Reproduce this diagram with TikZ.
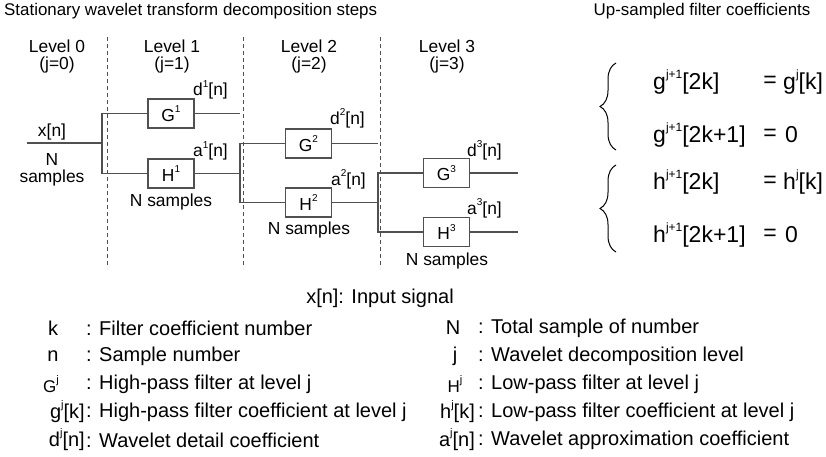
\documentclass[tikz,border=0pt]{standalone}
\usepackage{fontspec}
\setmainfont{Liberation Sans}
\usetikzlibrary{decorations.pathreplacing}
\newcommand\upsc[2]{\raisebox{0.5em}{\fontsize{#1}{#1}\selectfont #2}}
\newcommand\fdia{\fontsize{17.4}{20}\selectfont}
\newcommand\feq{\fontsize{23}{26}\selectfont}
\newcommand\fleg{\fontsize{20}{23}\selectfont}
\newcommand\ftit{\fontsize{16.9}{20}\selectfont}
\definecolor{ln}{HTML}{505050}
\tikzset{
  wire/.style={draw=ln, line width=1.2pt},
  fbox/.style={draw=ln, line width=1.2pt, minimum width=46pt, minimum height=29pt, inner sep=0pt, font=\fdia},
  dlbl/.style={inner sep=0pt, font=\fdia},
  eqt/.style={inner sep=0pt, font=\feq},
  leg/.style={inner sep=0pt, font=\fleg},
  tit/.style={inner sep=0pt, font=\ftit},
  lvl/.style={draw=ln, line width=0.9pt, dash pattern=on 4pt off 3pt},
  brc/.style={draw=black, line width=1pt, decorate, decoration={brace, amplitude=16pt, aspect=0.5}}
}
\begin{document}
\begin{tikzpicture}[x=1pt, y=-1pt]
\useasboundingbox (0,0) rectangle (826,457);
% titles
\node[tit, anchor=west] (t1) at (4,11) {Stationary wavelet transform decomposition steps};
\node[tit] (t2) at (702,11) {Up-sampled filter coefficients};
% level separators
\coordinate (v1a) at (107,37); \coordinate (v1b) at (107,268);
\coordinate (v2a) at (243,37); \coordinate (v2b) at (243,268);
\coordinate (v3a) at (380,37); \coordinate (v3b) at (380,268);
\draw[lvl] (v1a) -- (v1b);
\draw[lvl] (v2a) -- (v2b);
\draw[lvl] (v3a) -- (v3b);
% level labels
\node[dlbl] (L0) at (57,46) {Level 0};
\node[dlbl] (j0) at (57,65) {(j=0)};
\node[dlbl] (L1) at (172,46) {Level 1};
\node[dlbl] (j1) at (172,65) {(j=1)};
\node[dlbl] (L2) at (309,46) {Level 2};
\node[dlbl] (j2) at (309,65) {(j=2)};
\node[dlbl] (L3) at (447,46) {Level 3};
\node[dlbl] (j3) at (447,65) {(j=3)};
% filters
\node[fbox] (G1) at (171,113.5) {G\upsc{10}{1}};
\node[fbox] (H1) at (171,173.5) {H\upsc{10}{1}};
\node[fbox] (G2) at (308.5,143.5) {G\upsc{10}{2}};
\node[fbox] (H2) at (308.5,202.5) {H\upsc{10}{2}};
\node[fbox] (G3) at (446.5,173) {G\upsc{10}{3}};
\node[fbox] (H3) at (446.5,232) {H\upsc{10}{3}};
% wiring
\coordinate (x0) at (27,143);
\coordinate (s0) at (102,143);
\coordinate (s1) at (240,173.5);
\coordinate (d1) at (240,113.5);
\coordinate (s2) at (378,202.5);
\coordinate (d2) at (378,143.5);
\coordinate (d3) at (518,173);
\coordinate (a3) at (518,232);
\draw[wire] (x0) -- (s0);
\draw[wire] (G1.west) -| (s0) |- (H1.west);
\draw[wire] (G1.east) -- (d1);
\draw[wire] (H1.east) -- (s1);
\draw[wire] (G2.west) -| (s1) |- (H2.west);
\draw[wire] (G2.east) -- (d2);
\draw[wire] (H2.east) -- (s2);
\draw[wire] (G3.west) -| (s2) |- (H3.west);
\draw[wire] (G3.east) -- (d3);
\draw[wire] (H3.east) -- (a3);
% signal labels
\node[dlbl] (xn) at (52,132) {x[n]};
\node[dlbl] (xN) at (52,160) {N};
\node[dlbl] (xs) at (52,178) {samples};
\node[dlbl, anchor=west] (dl1) at (193,90) {d\upsc{10}{1}[n]};
\node[dlbl, anchor=west] (al1) at (193,151) {a\upsc{10}{1}[n]};
\node[dlbl] (ns1) at (171,202) {N samples};
\node[dlbl, anchor=west] (dl2) at (330,118) {d\upsc{10}{2}[n]};
\node[dlbl, anchor=west] (al2) at (331,179) {a\upsc{10}{2}[n]};
\node[dlbl] (ns2) at (309,230) {N samples};
\node[dlbl, anchor=west] (dl3) at (467,150) {d\upsc{10}{3}[n]};
\node[dlbl, anchor=west] (al3) at (467,208) {a\upsc{10}{3}[n]};
\node[dlbl] (ns3) at (447,261) {N samples};
% braces
\coordinate (b1t) at (616,63); \coordinate (b1b) at (616,150);
\coordinate (b2t) at (616,165); \coordinate (b2b) at (616,252);
\draw[brc] (b1b) -- (b1t);
\draw[brc] (b2b) -- (b2t);
% equations
\node[eqt, anchor=west] (e1l) at (653,82) {g\upsc{12}{j+1}[2k]};
\node[eqt] (e1m) at (770,82) {=};
\node[eqt, anchor=west] (e1r) at (783,82) {g\upsc{12}{j}[k]};
\node[eqt, anchor=west] (e2l) at (653,135) {g\upsc{12}{j+1}[2k+1]};
\node[eqt] (e2m) at (770,135) {=};
\node[eqt, anchor=west] (e2r) at (785,135) {0};
\node[eqt, anchor=west] (e3l) at (653,182) {h\upsc{12}{j+1}[2k]};
\node[eqt] (e3m) at (770,182) {=};
\node[eqt, anchor=west] (e3r) at (783,182) {h\upsc{12}{j}[k]};
\node[eqt, anchor=west] (e4l) at (653,235) {h\upsc{12}{j+1}[2k+1]};
\node[eqt] (e4m) at (770,235) {=};
\node[eqt, anchor=west] (e4r) at (785,235) {0};
% legend
\node[leg] (lx) at (380,298) {x[n]: Input signal};
\node[leg] (k1) at (53,328) {k};
\node[leg, anchor=west] (k2) at (86,328) {: Filter coefficient number};
\node[leg] (n1) at (53,356) {n};
\node[leg, anchor=west] (n2) at (86,356) {: Sample number};
\node[leg] (G1s) at (51,384) {\fontsize{17}{20}\selectfont G\upsc{11}{j}};
\node[leg, anchor=west] (G2s) at (86,384) {: High-pass filter at level j};
\node[leg, anchor=east] (g1s) at (85,412) {g\upsc{11}{j}[k]};
\node[leg, anchor=west] (g2s) at (86,412) {: High-pass filter coefficient at level j};
\node[leg, anchor=east] (d1s) at (85,440) {d\upsc{11}{j}[n]};
\node[leg, anchor=west] (d2s) at (86,440) {: Wavelet detail coefficient};
\node[leg] (N1) at (453,328) {N};
\node[leg, anchor=west] (N2) at (478,328) {: Total sample of number};
\node[leg] (j1s) at (455,356) {j};
\node[leg, anchor=west] (j2s) at (478,356) {: Wavelet decomposition level};
\node[leg] (H1s) at (455,384) {\fontsize{17}{20}\selectfont H\upsc{11}{j}};
\node[leg, anchor=west] (H2s) at (478,384) {: Low-pass filter at level j};
\node[leg, anchor=east] (h1s) at (475,412) {h\upsc{11}{j}[k]};
\node[leg, anchor=west] (h2s) at (478,412) {: Low-pass filter coefficient at level j};
\node[leg, anchor=east] (a1s) at (475,440) {a\upsc{11}{j}[n]};
\node[leg, anchor=west] (a2s) at (478,440) {: Wavelet approximation coefficient};
\end{tikzpicture}
\end{document}
